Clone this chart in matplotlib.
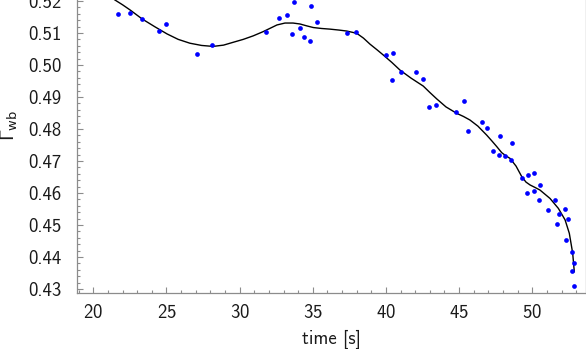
import matplotlib
matplotlib.use("Agg")
import matplotlib.pyplot as plt
from matplotlib.ticker import MultipleLocator

# measured points
time_pts = [21.71, 22.51, 23.33, 24.51, 24.95, 27.11, 28.11, 31.82, 32.71, 33.22,
            33.74, 33.60, 34.13, 34.40, 34.90, 34.81, 35.31, 37.32, 37.93, 40.02,
            40.50, 40.41, 41.01, 42.03, 42.51, 42.92, 43.42, 44.81, 45.30, 45.61,
            46.53, 46.90, 47.81, 47.29, 47.70, 48.13, 48.59, 48.52, 49.31, 49.73,
            50.12, 49.62, 50.12, 50.51, 50.44, 51.09, 51.53, 51.80, 51.71, 52.24,
            52.42, 52.30, 52.69, 52.87, 52.69, 52.88]
gamma_pts = [0.5158, 0.5162, 0.5144, 0.5105, 0.5129, 0.5035, 0.5063, 0.5104, 0.5148, 0.5156,
             0.5196, 0.5098, 0.5116, 0.5088, 0.5183, 0.5074, 0.5134, 0.5099, 0.5103, 0.5030,
             0.5037, 0.4954, 0.4979, 0.4979, 0.4957, 0.4869, 0.4874, 0.4852, 0.4886, 0.4795,
             0.4822, 0.4804, 0.4778, 0.4732, 0.4720, 0.4715, 0.4757, 0.4702, 0.4648, 0.4655,
             0.4662, 0.4600, 0.4607, 0.4624, 0.4579, 0.4547, 0.4578, 0.4534, 0.4502, 0.4549,
             0.4518, 0.4453, 0.4417, 0.4381, 0.4357, 0.4309]

# smoothed fit curve
fit_t = [20.73, 21.48, 22.00, 22.51, 23.33, 24.22, 25.04, 25.80, 26.60, 27.40,
         28.18, 28.90, 29.57, 30.25, 30.93, 31.60, 32.10, 32.55, 33.10, 33.65,
         34.13, 34.60, 35.03, 35.60, 36.17, 36.80, 37.32, 38.00, 38.46, 38.91,
         39.40, 39.82, 40.40, 40.96, 41.71, 42.55, 43.00, 43.47, 44.10, 44.83,
         45.30, 45.74, 46.28, 46.88, 47.25, 47.57, 47.91, 48.20, 48.48, 48.89,
         49.28, 49.57, 49.85, 50.20, 50.53, 51.21, 51.78, 52.24, 52.53, 52.76,
         52.87]
fit_gamma = [0.5228, 0.5203, 0.5188, 0.5172, 0.5144, 0.5119, 0.5097, 0.5080, 0.5068, 0.5061,
             0.5058, 0.5062, 0.5071, 0.5080, 0.5091, 0.5104, 0.5115, 0.5125, 0.5131, 0.5131,
             0.5128, 0.5122, 0.5117, 0.5114, 0.5112, 0.5109, 0.5106, 0.5099, 0.5084, 0.5065,
             0.5047, 0.5031, 0.5008, 0.4984, 0.4959, 0.4934, 0.4914, 0.4894, 0.4869, 0.4849,
             0.4839, 0.4828, 0.4809, 0.4781, 0.4762, 0.4745, 0.4726, 0.4716, 0.4708, 0.4684,
             0.4651, 0.4634, 0.4625, 0.4617, 0.4609, 0.4583, 0.4552, 0.4516, 0.4474, 0.4412,
             0.4354]

plt.rcParams['font.family'] = ['cmss10', 'DejaVu Sans']
plt.rcParams['mathtext.fontset'] = 'dejavusans'
plt.rcParams['axes.formatter.use_mathtext'] = True

fig = plt.figure(figsize=(5.86, 3.49), dpi=100)
ax = fig.add_axes([77 / 586, 56 / 349, 508.5 / 586, 293 / 349])

ax.plot(fit_t, fit_gamma, color='black', lw=1.0, solid_joinstyle='round')
ax.plot(time_pts, gamma_pts, 'o', color='#0000ff', ms=3.4, mew=0)

ax.set_xlim(18.886, 53.636)
ax.set_ylim(0.42875, 0.5203)
ax.xaxis.set_major_locator(MultipleLocator(5))
ax.xaxis.set_minor_locator(MultipleLocator(1))
ax.yaxis.set_major_locator(MultipleLocator(0.01))
ax.yaxis.set_minor_locator(MultipleLocator(0.002))
ax.yaxis.set_major_formatter(plt.FormatStrFormatter('%.2f'))

gray = '#8c8c8c'
for side in ['left', 'bottom', 'right']:
    ax.spines[side].set_color(gray)
    ax.spines[side].set_linewidth(0.9)
ax.spines['top'].set_visible(False)

ax.tick_params(which='both', direction='in', color=gray, width=0.8,
               labelsize=13.5, labelcolor='#1a1a1a', right=False, top=False)
ax.tick_params(which='major', length=4)
ax.tick_params(which='minor', length=2)
ax.tick_params(axis='y', pad=11)
ax.tick_params(axis='x', pad=8)

ax.set_xlabel('time [s]', fontsize=13.5, color='#1a1a1a')
ax.set_ylabel(r'$\Gamma_{\mathrm{wb}}$', fontsize=13.5, color='#1a1a1a')
ax.xaxis.set_label_coords(0.5, -0.125)
ax.yaxis.set_label_coords(-0.112, 0.57)

fig.savefig('out.png', dpi=100)
